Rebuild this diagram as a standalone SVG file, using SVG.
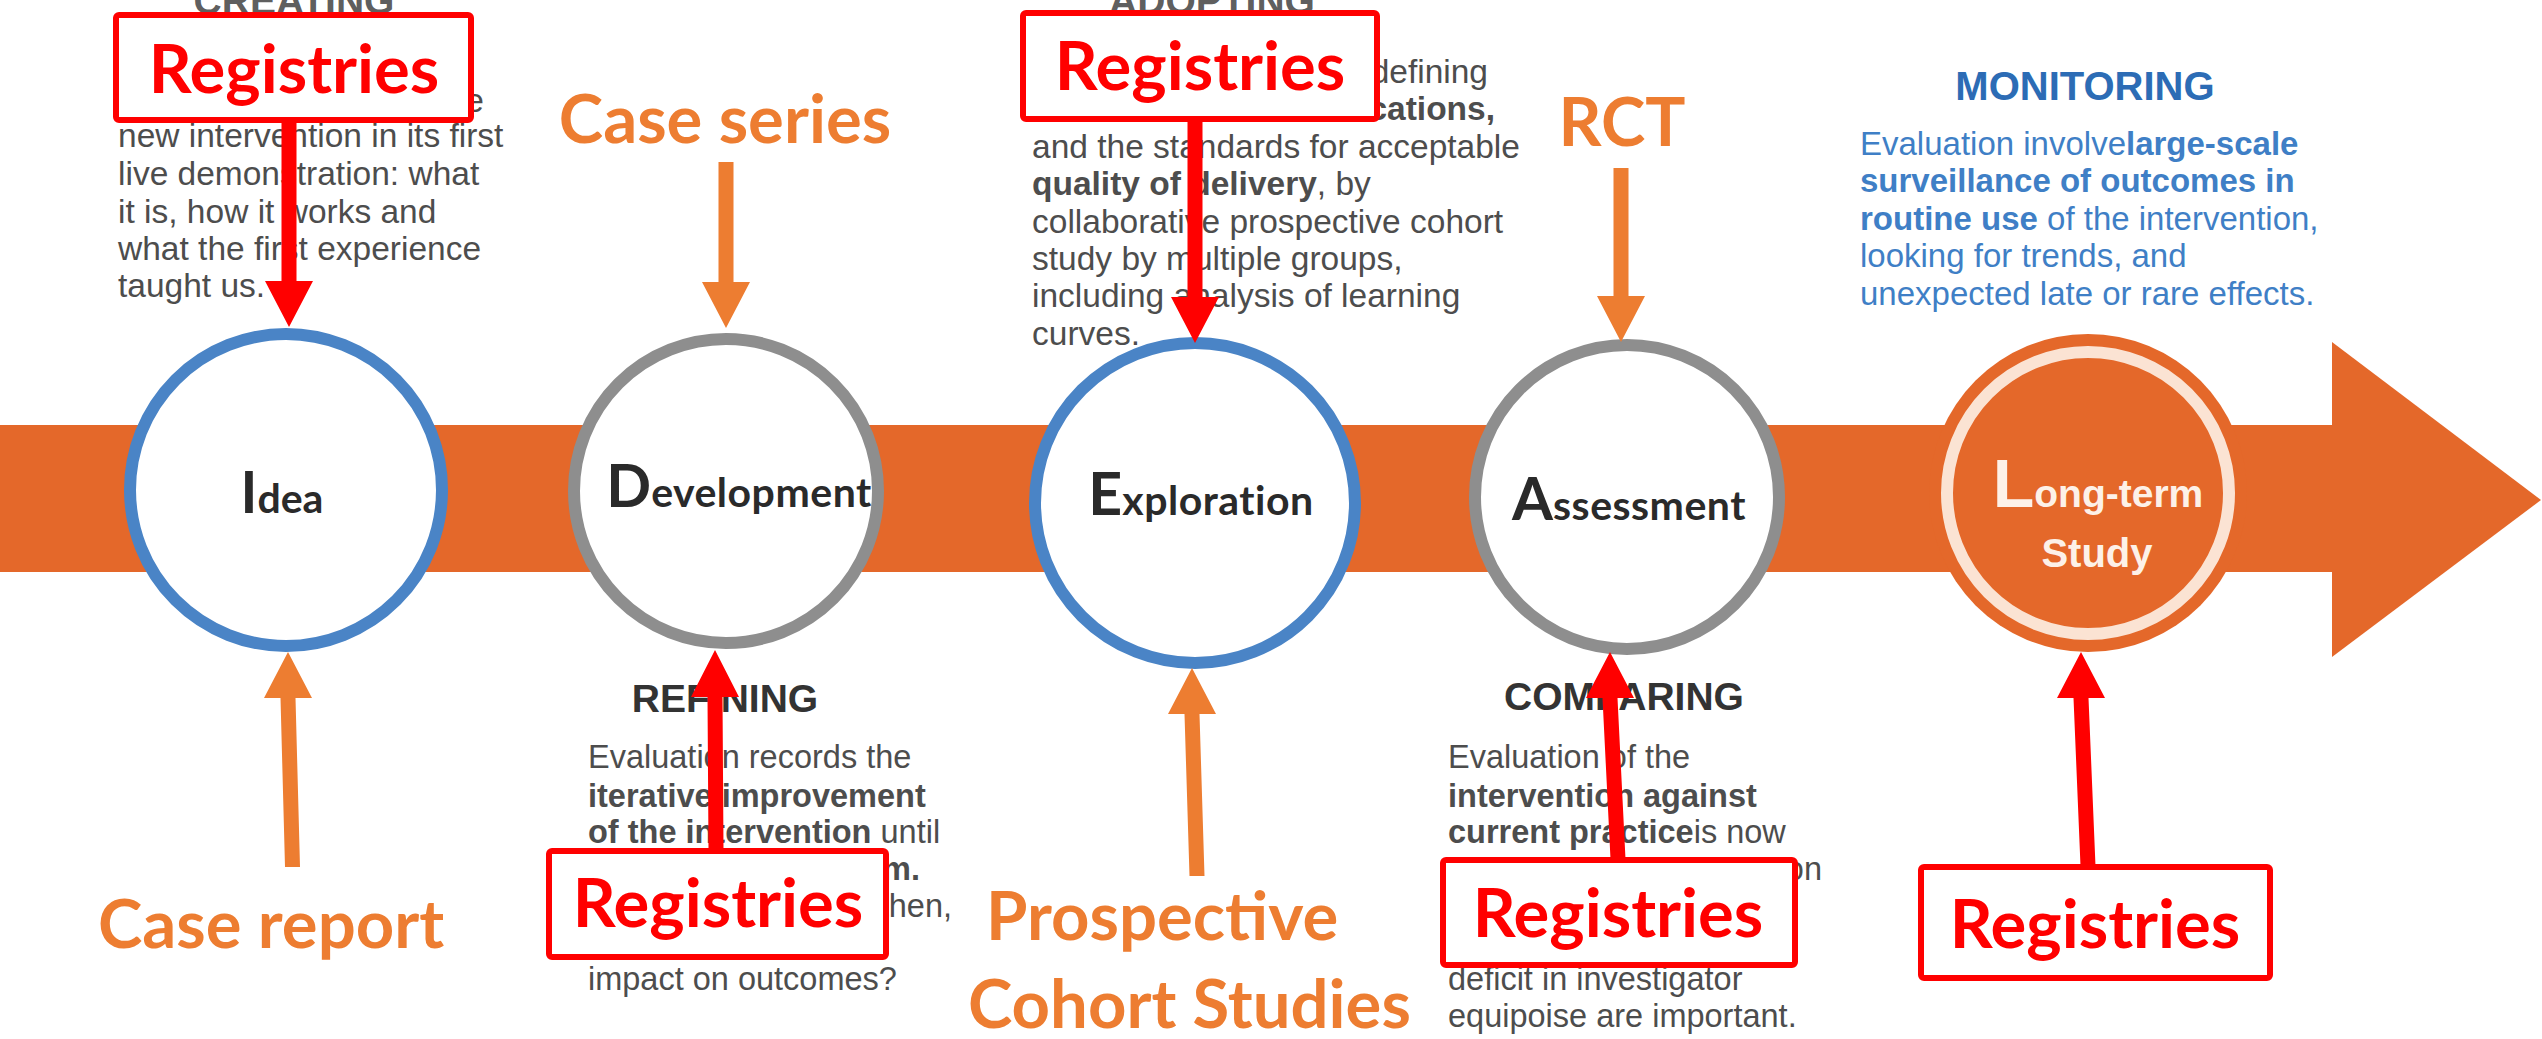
<svg xmlns="http://www.w3.org/2000/svg" width="2542" height="1039" viewBox="0 0 2542 1039">
  <style>
    .para { font-family: "Liberation Sans", Arial, sans-serif; font-size: 33.5px; fill: #4d4d4d; }
    .parb { font-family: "Liberation Sans", Arial, sans-serif; font-size: 32.5px; fill: #4d4d4d; }
    .mon { font-family: "Liberation Sans", Arial, sans-serif; font-size: 33px; fill: #3f7fc6; }
    .b { font-weight: bold; }
    .hdr { font-family: "Liberation Sans", Arial, sans-serif; font-size: 39px; font-weight: bold; fill: #333333; text-anchor: middle; }
    .hdrblue { fill: #2c6cb5; font-size: 40px; }
    .regbox { fill: #ffffff; stroke: #ff0000; stroke-width: 6; }
    .reg { font-family: Lato, "Open Sans", sans-serif; font-weight: bold; font-size: 67px; fill: #ff0000; text-anchor: middle; }
    .lbl { font-family: Lato, "Open Sans", sans-serif; font-weight: bold; font-size: 67px; fill: #ed7d31; }
    .circ { fill: #ffffff; stroke-width: 12; }
    .blue { stroke: #4a84c6; }
    .gray { stroke: #8e8e8e; }
    .cname { font-family: Lato, "Liberation Sans", sans-serif; font-weight: bold; fill: #2a2a2a; text-anchor: middle; }
    .lt { font-family: "Liberation Sans", Arial, sans-serif; font-weight: bold; fill: #fdf1e8; text-anchor: middle; }
    .red { fill: #ff0000; }
    .org { fill: #ed7d31; }
  </style>

  <rect x="0" y="0" width="2542" height="1039" fill="#ffffff"/>

  <!-- timeline band -->
  <g id="timeline">
    <rect x="0" y="425" width="2336" height="147" fill="#e4682a"/>
    <polygon points="2332,342 2541,500 2332,657" fill="#e4682a"/>
  </g>

  <!-- stage nodes -->
  <g id="node-idea">
    <circle class="circ blue" cx="286" cy="490" r="156"/>
    <text class="cname" x="282" y="513"><tspan font-size="57">I</tspan><tspan font-size="41">dea</tspan></text>
  </g>
  <g id="node-development">
    <circle class="circ gray" cx="726" cy="491" r="152"/>
    <text class="cname" x="739" y="507"><tspan font-size="59">D</tspan><tspan font-size="41" letter-spacing="0.5">evelopment</tspan></text>
  </g>
  <g id="node-exploration">
    <circle class="circ blue" cx="1195" cy="503" r="160"/>
    <text class="cname" x="1201" y="515"><tspan font-size="59">E</tspan><tspan font-size="41" letter-spacing="0.5">xploration</tspan></text>
  </g>
  <g id="node-assessment">
    <circle class="circ gray" cx="1627" cy="497" r="152"/>
    <text class="cname" x="1629" y="520"><tspan font-size="59">A</tspan><tspan font-size="41" letter-spacing="0.5">ssessment</tspan></text>
  </g>
  <g id="node-longterm">
    <circle cx="2088" cy="493" r="159" fill="#e4682a"/>
    <circle cx="2088" cy="493" r="141" fill="#e4682a" stroke="#fbe3d3" stroke-width="12"/>
    <text class="lt" x="2098" y="507"><tspan font-size="68">L</tspan><tspan font-size="39">ong-term</tspan></text>
    <text class="lt" x="2097" y="567" font-size="40">Study</text>
  </g>

  <!-- stage descriptions -->
  <g id="desc-idea">
    <text class="hdr" x="294" y="14" fill-opacity="0.8">CREATING</text>
    <text class="para" x="484" y="112" text-anchor="end">the</text>
    <text class="para" x="118" y="147">new intervention in its first</text>
    <text class="para" x="118" y="185">live demonstration: what</text>
    <text class="para" x="118" y="223">it is, how it works and</text>
    <text class="para" x="118" y="260">what the first experience</text>
    <text class="para" x="118" y="297">taught us.</text>
  </g>
  <g id="desc-development">
    <text class="hdr" x="725" y="712">REFINING</text>
    <text class="parb" x="588" y="768">Evaluation records the</text>
    <text class="parb b" x="588" y="807">iterative improvement</text>
    <text class="parb" x="588" y="843"><tspan class="b">of the intervention</tspan> until</text>
    <text class="parb b" x="920" y="880" text-anchor="end">m.</text>
    <text class="parb" x="952" y="917" text-anchor="end">then,</text>
    <text class="parb" x="588" y="990">impact on outcomes?</text>
  </g>
  <g id="desc-exploration">
    <text class="hdr" x="1212" y="14" fill-opacity="0.8">ADOPTING</text>
    <text class="para" x="1488" y="83" text-anchor="end">defining</text>
    <text class="para b" x="1495" y="120" text-anchor="end">ications,</text>
    <text class="para" x="1032" y="158">and the standards for acceptable</text>
    <text class="para" x="1032" y="195"><tspan class="b">quality of delivery</tspan>, by</text>
    <text class="para" x="1032" y="233">collaborative prospective cohort</text>
    <text class="para" x="1032" y="270">study by multiple groups,</text>
    <text class="para" x="1032" y="307">including analysis of learning</text>
    <text class="para" x="1032" y="345">curves.</text>
  </g>
  <g id="desc-assessment">
    <text class="hdr" x="1624" y="710">COMPARING</text>
    <text class="parb" x="1448" y="768">Evaluation of the</text>
    <text class="parb b" x="1448" y="807">intervention against</text>
    <text class="parb" x="1448" y="843"><tspan class="b">current practice</tspan>is now</text>
    <text class="parb" x="1822" y="880" text-anchor="end">on</text>
    <text class="parb" x="1448" y="990">deficit in investigator</text>
    <text class="parb" x="1448" y="1027">equipoise are important.</text>
  </g>
  <g id="desc-longterm">
    <text class="hdr hdrblue" x="2085" y="100">MONITORING</text>
    <text class="mon" x="1860" y="155">Evaluation involve<tspan class="b">large-scale</tspan></text>
    <text class="mon b" x="1860" y="192">surveillance of outcomes in</text>
    <text class="mon" x="1860" y="230"><tspan class="b">routine use</tspan> of the intervention,</text>
    <text class="mon" x="1860" y="267">looking for trends, and</text>
    <text class="mon" x="1860" y="305">unexpected late or rare effects.</text>
  </g>

  <!-- connectors -->
  <g id="connectors">
    <path class="red" d="M281.5,123 H296.5 V281 H313 L289,327 L265,281 H281.5 Z"/>
    <path class="red" d="M1187.5,122 H1202.5 V297 H1219 L1195,343 L1171,297 H1187.5 Z"/>
    <path class="org" d="M718.5,162 H733.5 V282 H750 L726,328 L702,282 H718.5 Z"/>
    <path class="org" d="M1613.5,168 H1628.5 V296 H1645 L1621,342 L1597,296 H1613.5 Z"/>
    <path class="org" d="M280.5,698 H264 L288,652 L312,698 H295.5 L300,867 H285 Z"/>
    <path class="org" d="M1184.5,714 H1168 L1192,668 L1216,714 H1199.5 L1204.5,876 H1189.5 Z"/>
    <path class="red" d="M707.5,697 H691 L715,650 L739,697 H722.5 L723.5,850 H708.5 Z"/>
    <path class="red" d="M1602.5,698 H1586 L1610,652 L1634,698 H1617.5 L1625.5,859 H1610.5 Z"/>
    <path class="red" d="M2073.5,698 H2057 L2081,652 L2105,698 H2088.5 L2095.5,866 H2080.5 Z"/>
  </g>

  <!-- study-type labels -->
  <g id="label-registries-idea">
    <rect class="regbox" x="116" y="15" width="355" height="105" rx="3"/>
    <text class="reg" x="294" y="93">Registries</text>
  </g>
  <g id="label-registries-exploration">
    <rect class="regbox" x="1023" y="13" width="354" height="106" rx="3"/>
    <text class="reg" x="1200" y="90">Registries</text>
  </g>
  <g id="label-registries-development">
    <rect class="regbox" x="549" y="851" width="337" height="106" rx="3"/>
    <text class="reg" x="718" y="927">Registries</text>
  </g>
  <g id="label-registries-assessment">
    <rect class="regbox" x="1443" y="860" width="352" height="105" rx="3"/>
    <text class="reg" x="1618" y="937">Registries</text>
  </g>
  <g id="label-registries-longterm">
    <rect class="regbox" x="1921" y="867" width="349" height="111" rx="3"/>
    <text class="reg" x="2095" y="948">Registries</text>
  </g>
  <g id="label-case-series">
    <text class="lbl" x="725" y="143" text-anchor="middle">Case series</text>
  </g>
  <g id="label-rct">
    <text class="lbl" x="1622" y="146" text-anchor="middle">RCT</text>
  </g>
  <g id="label-case-report">
    <text class="lbl" x="98" y="948">Case report</text>
  </g>
  <g id="label-prospective">
    <text class="lbl" x="986" y="940">Prospective</text>
    <text class="lbl" x="968" y="1028">Cohort Studies</text>
  </g>
</svg>
